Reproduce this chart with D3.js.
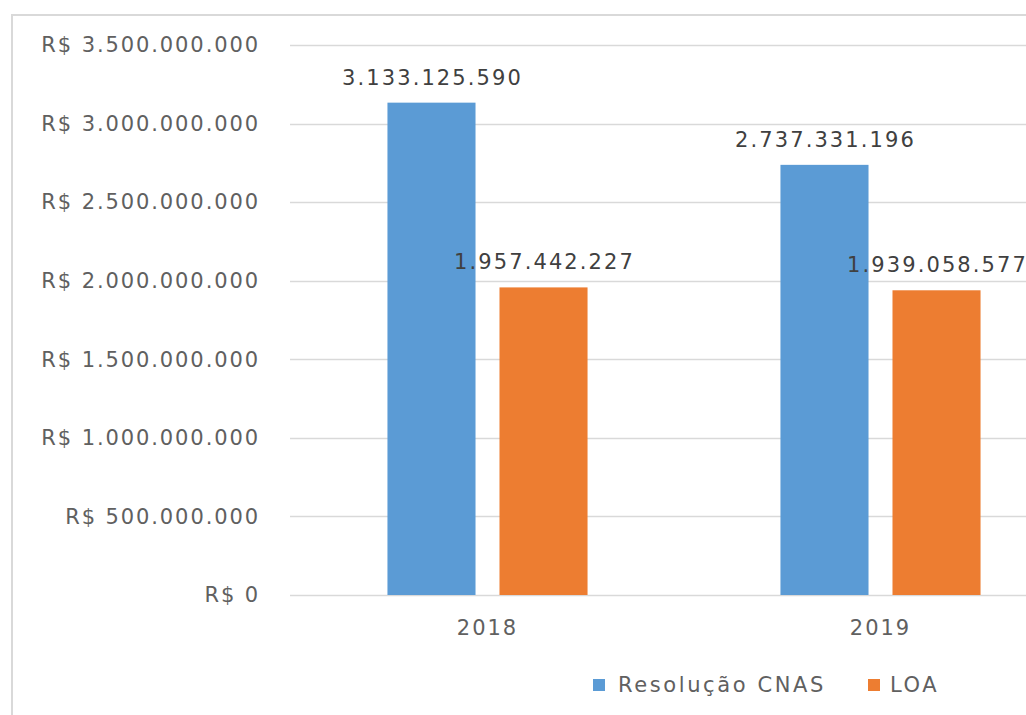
<!DOCTYPE html>
<html>
<head>
<meta charset="utf-8">
<script src="https://cdn.jsdelivr.net/npm/d3@7"></script>
<style>
  html, body { margin: 0; padding: 0; background: #fff; }
  svg { display: block; font-family: "DejaVu Sans", Verdana, sans-serif; }
</style>
</head>
<body>
<svg id="chart" width="1026" height="715"></svg>
<script>
// ---- data ----
const categories = ["2018", "2019"];
const seriesNames = ["Resolução CNAS", "LOA"];
const resolucaoCNAS = [3133125590, 2737331196];
const loa = [1957442227, 1939058577];
const yTickValues = [0, 500000000, 1000000000, 1500000000, 2000000000, 2500000000, 3000000000, 3500000000];
const colors = ["#5b9bd5", "#ed7d31"];

const seriesValues = [resolucaoCNAS, loa];

// ---- layout ----
const svg = d3.select("#chart");
const W = 1026, H = 715;
const plotLeft = 291, plotRight = 1077, plotTop = 45, plotBottom = 595;

const fmtNum = v => d3.format(",")(v).replace(/,/g, ".");

// frame
svg.append("rect")
  .attr("x", 12).attr("y", 15)
  .attr("width", 1100).attr("height", 800)
  .attr("fill", "none").attr("stroke", "#d9d9d9").attr("stroke-width", 2);

const y = d3.scaleLinear().domain([0, 3500000000]).range([plotBottom, plotTop]);
const x0 = d3.scaleBand().domain(categories).range([plotLeft, plotRight]).paddingInner(0).paddingOuter(0);
const x1 = d3.scaleBand().domain(seriesNames).range([0, x0.bandwidth()])
  .paddingInner(0.214).paddingOuter(0.861);

// gridlines
svg.append("g").selectAll("line").data(yTickValues).join("line")
  .attr("x1", plotLeft - 1).attr("x2", W)
  .attr("y1", d => Math.round(y(d)) + 0.5).attr("y2", d => Math.round(y(d)) + 0.5)
  .attr("stroke", "#d9d9d9").attr("stroke-width", 1.5);

// y axis labels
const yAxis = d3.axisLeft(y).tickValues(yTickValues).tickSize(0).tickPadding(0)
  .tickFormat(d => "R$ " + fmtNum(d));
const gy = svg.append("g").attr("transform", `translate(${plotLeft - 31},0)`).call(yAxis);
gy.select(".domain").remove();
gy.selectAll("text")
  .attr("fill", "#606060").attr("font-size", 21).attr("letter-spacing", "1.9px")
  .attr("font-family", "DejaVu Sans, Verdana, sans-serif");

// x axis labels
const xAxis = d3.axisBottom(x0).tickSize(0).tickPadding(0);
const gx = svg.append("g").attr("transform", `translate(0,${plotBottom})`).call(xAxis);
gx.select(".domain").remove();
gx.selectAll("text")
  .attr("y", 40).attr("dy", 0)
  .attr("fill", "#606060").attr("font-size", 21).attr("letter-spacing", "2px")
  .attr("font-family", "DejaVu Sans, Verdana, sans-serif");

// bars
const groups = svg.append("g").selectAll("g").data(categories).join("g")
  .attr("transform", d => `translate(${x0(d)},0)`);

seriesNames.forEach((s, si) => {
  groups.append("rect")
    .attr("x", x1(s))
    .attr("width", x1.bandwidth())
    .attr("y", (d, i) => y(seriesValues[si][i]))
    .attr("height", (d, i) => y(0) - y(seriesValues[si][i]))
    .attr("fill", colors[si]);
});

// data labels
seriesNames.forEach((s, si) => {
  groups.append("text")
    .attr("x", x1(s) + x1.bandwidth() / 2 + 1)
    .attr("y", (d, i) => y(seriesValues[si][i]) - 18)
    .attr("text-anchor", "middle")
    .attr("fill", "#404040").attr("font-size", 21).attr("letter-spacing", "2.1px")
    .text((d, i) => fmtNum(seriesValues[si][i]));
});

// legend
const legendX = [593, 868];
const legend = svg.append("g").selectAll("g").data(seriesNames).join("g")
  .attr("transform", (d, i) => `translate(${legendX[i]},679)`);
legend.append("rect").attr("width", 12).attr("height", 12).attr("fill", (d, i) => colors[i]);
legend.append("text")
  .attr("x", (d, i) => i === 0 ? 25 : 22).attr("y", 13)
  .attr("fill", "#606060").attr("font-size", 21).attr("letter-spacing", "2.6px")
  .text(d => d);
</script>
</body>
</html>
